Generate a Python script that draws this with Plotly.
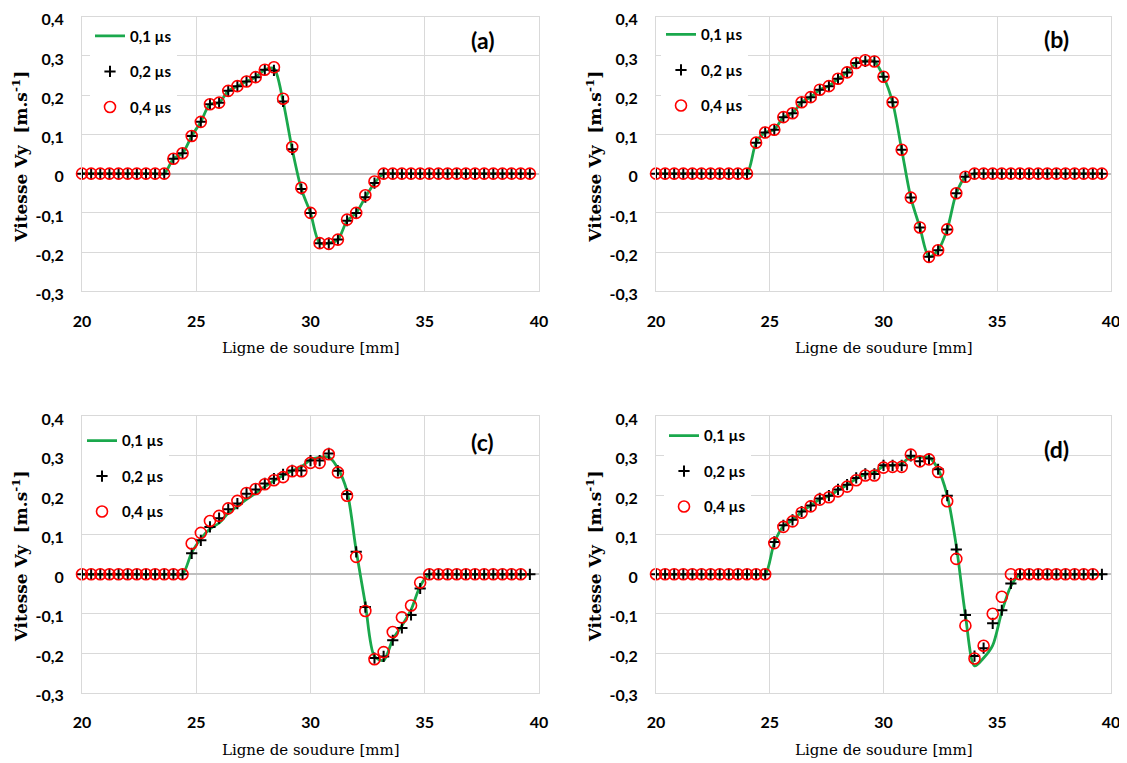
import plotly.graph_objects as go

# ---------------- data ----------------
X = [20.0, 20.4, 20.8, 21.2, 21.6, 22.0, 22.4, 22.8, 23.2, 23.6,
     24.0, 24.4, 24.8, 25.2, 25.6, 26.0, 26.4, 26.8, 27.2, 27.6,
     28.0, 28.4, 28.8, 29.2, 29.6, 30.0, 30.4, 30.8, 31.2, 31.6,
     32.0, 32.4, 32.8, 33.2, 33.6, 34.0, 34.4, 34.8, 35.2, 35.6,
     36.0, 36.4, 36.8, 37.2, 37.6, 38.0, 38.4, 38.8, 39.2, 39.6]

# panel (a)
A_01 = [0, 0, 0, 0, 0, 0, 0, 0, 0, 0,
        0.038, 0.052, 0.096, 0.132, 0.177, 0.181, 0.211, 0.223, 0.235, 0.246,
        0.265, 0.268, 0.184, 0.062, -0.039, -0.100, -0.177, -0.177, -0.168, -0.120,
        -0.100, -0.060, -0.024, 0, 0, 0, 0, 0, 0, 0,
        0, 0, 0, 0, 0, 0, 0, 0, 0, 0]
A_02 = [0, 0, 0, 0, 0, 0, 0, 0, 0, 0,
        0.038, 0.052, 0.096, 0.132, 0.177, 0.181, 0.211, 0.223, 0.235, 0.246,
        0.265, 0.263, 0.184, 0.062, -0.039, -0.100, -0.177, -0.177, -0.168, -0.120,
        -0.100, -0.060, -0.024, 0, 0, 0, 0, 0, 0, 0,
        0, 0, 0, 0, 0, 0, 0, 0, 0, 0]
A_04 = [0, 0, 0, 0, 0, 0, 0, 0, 0, 0,
        0.038, 0.052, 0.096, 0.132, 0.177, 0.181, 0.211, 0.223, 0.235, 0.246,
        0.265, 0.271, 0.191, 0.068, -0.036, -0.100, -0.177, -0.179, -0.168, -0.117,
        -0.100, -0.055, -0.020, 0, 0, 0, 0, 0, 0, 0,
        0, 0, 0, 0, 0, 0, 0, 0, 0, 0]

# panel (b)
B_01 = [0, 0, 0, 0, 0, 0, 0, 0, 0, 0,
        0, 0.079, 0.105, 0.112, 0.144, 0.154, 0.182, 0.195, 0.214, 0.223,
        0.242, 0.258, 0.282, 0.287, 0.286, 0.247, 0.182, 0.061, -0.061, -0.137,
        -0.212, -0.195, -0.142, -0.050, -0.008, 0, 0, 0, 0, 0,
        0, 0, 0, 0, 0, 0, 0, 0, 0, 0]
B_02 = [0, 0, 0, 0, 0, 0, 0, 0, 0, 0,
        0, 0.079, 0.105, 0.112, 0.144, 0.154, 0.182, 0.195, 0.214, 0.223,
        0.242, 0.258, 0.282, 0.286, 0.286, 0.247, 0.182, 0.061, -0.061, -0.137,
        -0.212, -0.195, -0.142, -0.050, -0.008, 0, 0, 0, 0, 0,
        0, 0, 0, 0, 0, 0, 0, 0, 0, 0]
B_04 = [0, 0, 0, 0, 0, 0, 0, 0, 0, 0,
        0, 0.079, 0.105, 0.112, 0.144, 0.154, 0.182, 0.195, 0.214, 0.223,
        0.242, 0.258, 0.282, 0.289, 0.286, 0.247, 0.182, 0.061, -0.061, -0.137,
        -0.212, -0.195, -0.142, -0.050, -0.008, 0, 0, 0, 0, 0,
        0, 0, 0, 0, 0, 0, 0, 0, 0, 0]

# panel (c)
C_01 = [0, 0, 0, 0, 0, 0, 0, 0, 0, 0,
        0, 0, 0.055, 0.090, 0.115, 0.130, 0.155, 0.172, 0.190, 0.205,
        0.222, 0.237, 0.250, 0.262, 0.272, 0.290, 0.296, 0.297, 0.268, 0.210,
        0.060, -0.075, -0.208, -0.218, -0.165, -0.130, -0.090, -0.030, 0, 0,
        0, 0, 0, 0, 0, 0, 0, 0, 0, 0]
C_02 = [0, 0, 0, 0, 0, 0, 0, 0, 0, 0,
        0, 0, 0.053, 0.086, 0.120, 0.142, 0.165, 0.179, 0.204, 0.215,
        0.230, 0.242, 0.253, 0.263, 0.263, 0.288, 0.288, 0.306, 0.262, 0.203,
        0.057, -0.083, -0.212, -0.208, -0.167, -0.136, -0.103, -0.036, 0, 0,
        0, 0, 0, 0, 0, 0, 0, 0, 0, 0]
C_04 = [0, 0, 0, 0, 0, 0, 0, 0, 0, 0,
        0, 0, 0.078, 0.105, 0.135, 0.148, 0.167, 0.186, 0.206, 0.216,
        0.228, 0.238, 0.246, 0.261, 0.261, 0.282, 0.282, 0.304, 0.258, 0.199,
        0.044, -0.093, -0.215, -0.197, -0.146, -0.109, -0.079, -0.021, 0, 0,
        0, 0, 0, 0, 0, 0, 0, 0, 0, None]

# panel (d)
D_01 = [0, 0, 0, 0, 0, 0, 0, 0, 0, 0,
        0, 0, 0, 0.080, 0.122, 0.137, 0.158, 0.174, 0.190, 0.198,
        0.213, 0.226, 0.242, 0.253, 0.258, 0.274, 0.276, 0.280, 0.298, 0.296,
        0.296, 0.266, 0.200, 0.072, -0.103, -0.232, -0.212, -0.180, -0.095, -0.030,
        0, 0, 0, 0, 0, 0, 0, 0, 0, 0]
D_02 = [0, 0, 0, 0, 0, 0, 0, 0, 0, 0,
        0, 0, 0, 0.082, 0.124, 0.138, 0.159, 0.174, 0.192, 0.199,
        0.215, 0.227, 0.244, 0.254, 0.254, 0.276, 0.276, 0.276, 0.300, 0.286,
        0.293, 0.266, 0.199, 0.063, -0.103, -0.207, -0.187, -0.124, -0.091, -0.023,
        0, 0, 0, 0, 0, 0, 0, 0, 0, 0]
D_04 = [0, 0, 0, 0, 0, 0, 0, 0, 0, 0,
        0, 0, 0, 0.079, 0.120, 0.134, 0.156, 0.172, 0.189, 0.195,
        0.210, 0.222, 0.238, 0.250, 0.250, 0.270, 0.272, 0.272, 0.303, 0.286,
        0.291, 0.259, 0.185, 0.039, -0.130, -0.213, -0.181, -0.100, -0.057, 0.000,
        0, 0, 0, 0, 0, 0, 0, 0, 0, None]

SERIES_NAMES = ["0,1 µs", "0,2 µs", "0,4 µs"]
PANEL_LABELS = ["(a)", "(b)", "(c)", "(d)"]
X_TICKS = [20, 25, 30, 35, 40]
X_TICKTEXT = ["20", "25", "30", "35", "40"]
Y_TICKS = [-0.3, -0.2, -0.1, 0.0, 0.1, 0.2, 0.3, 0.4]
Y_TICKTEXT = ["-0,3", "-0,2", "-0,1", "0", "0,1", "0,2", "0,3", "0,4"]
X_TITLE = "Ligne de soudure [mm]"
Y_TITLE = "Vitesse Vy\u00a0 [m.s<sup>-1</sup>]"

PANELS = [(A_01, A_02, A_04), (B_01, B_02, B_04), (C_01, C_02, C_04), (D_01, D_02, D_04)]

# ---------------- layout geometry (page pixels) ----------------
W, H = 1127, 763
OFF = 8  # the page body margin shifts the figure by 8 px
# (left, right, top, bottom) of each plot area in page px
BOXES = [(82.0, 539.0, 16.7, 291.4),
         (656.0, 1111.0, 16.7, 291.4),
         (82.0, 539.0, 416.3, 692.8),
         (656.0, 1111.0, 416.3, 692.8)]
LEG_LEFT = [90, 661, 82, 664]     # legend left edge, page px
LEG_TOP = [19.7, 18.2, 424.3, 419.3]  # legend top edge, page px
LABEL_POS = [(37.54, 0.340), (37.6, 0.342), (37.54, 0.336), (37.6, 0.317)]


def fx(p):
    return (p - OFF) / W


def fy(p):
    return 1 - (p - OFF) / H


GREEN = "#1aa84c"
RED = "#ff0000"
GRID = "#d9d9d9"
TICKFONT = dict(family="Lato", size=16, color="#000000", weight="bold")

fig = go.Figure()
layout = dict(width=W, height=H, margin=dict(l=0, r=0, t=0, b=0, autoexpand=False),
              paper_bgcolor="white", plot_bgcolor="white", showlegend=True,
              annotations=[])

for k, (box, data) in enumerate(zip(BOXES, PANELS)):
    l, r, t, b = box
    sfx = "" if k == 0 else str(k + 1)
    xa, ya = "x" + sfx, "y" + sfx
    leg = "legend" + sfx
    y01, y02, y04 = data

    fig.add_trace(go.Scatter(x=X, y=y01, mode="lines", name=SERIES_NAMES[0],
                             line=dict(color=GREEN, width=2.8, shape="spline", smoothing=0.8),
                             xaxis=xa, yaxis=ya, legend=leg, legendgroup=f"g{k}a",
                             cliponaxis=False))
    fig.add_trace(go.Scatter(x=X, y=y02, mode="markers", name=SERIES_NAMES[1],
                             marker=dict(symbol="cross-thin", size=8, color="black",
                                         line=dict(color="black", width=2)),
                             xaxis=xa, yaxis=ya, legend=leg, legendgroup=f"g{k}b",
                             cliponaxis=False))
    fig.add_trace(go.Scatter(x=X, y=y04, mode="markers", name=SERIES_NAMES[2],
                             marker=dict(symbol="circle-open", size=11, color=RED,
                                         line=dict(color=RED, width=1.6)),
                             xaxis=xa, yaxis=ya, legend=leg, legendgroup=f"g{k}c",
                             cliponaxis=False))

    layout["xaxis" + sfx] = dict(domain=[fx(l), fx(r)], anchor=ya, range=[20, 40],
                                 tickvals=X_TICKS, ticktext=X_TICKTEXT, tickfont=TICKFONT,
                                 showgrid=True, gridcolor=GRID, gridwidth=1,
                                 showline=True, mirror=True, linecolor=GRID, linewidth=1,
                                 zeroline=False, ticks="", ticklabelstandoff=15,
                                 ticklabeloverflow="allow", automargin=False)
    layout["yaxis" + sfx] = dict(domain=[fy(b), fy(t)], anchor=xa, range=[-0.3, 0.4],
                                 tickvals=Y_TICKS, ticktext=Y_TICKTEXT, tickfont=TICKFONT,
                                 showgrid=True, gridcolor=GRID, gridwidth=1,
                                 showline=True, mirror=True, linecolor=GRID, linewidth=1,
                                 zeroline=True, zerolinecolor="#bfbfbf", zerolinewidth=1.5,
                                 ticks="", ticklabelstandoff=14, ticklabelshift=3,
                                 ticklabeloverflow="allow", automargin=False)
    layout[leg] = dict(x=fx(LEG_LEFT[k]), y=fy(LEG_TOP[k]),
                       xanchor="left", yanchor="top", bgcolor="white",
                       borderwidth=0, tracegroupgap=13,
                       font=dict(family="Lato", size=15, color="black", weight="bold"))

    # panel label
    layout["annotations"].append(dict(x=LABEL_POS[k][0], y=LABEL_POS[k][1], xref=xa, yref=ya,
                                      text=PANEL_LABELS[k], showarrow=False,
                                      xanchor="center", yanchor="middle",
                                      font=dict(family="Lato", size=23, color="black", weight="bold")))
    # x title
    layout["annotations"].append(dict(x=fx((l + r) / 2), y=fy(b + 57), xref="paper", yref="paper",
                                      text=X_TITLE, showarrow=False,
                                      xanchor="center", yanchor="middle",
                                      font=dict(family="DejaVu Serif", size=15, color="black")))
    # y title
    layout["annotations"].append(dict(x=fx(l - 62), y=fy(t + 140), xref="paper", yref="paper",
                                      text=Y_TITLE, showarrow=False, textangle=-90,
                                      xanchor="center", yanchor="middle",
                                      font=dict(family="DejaVu Serif", size=17, color="black",
                                                weight="bold")))

fig.update_layout(**layout)
fig.write_html("out.html")
